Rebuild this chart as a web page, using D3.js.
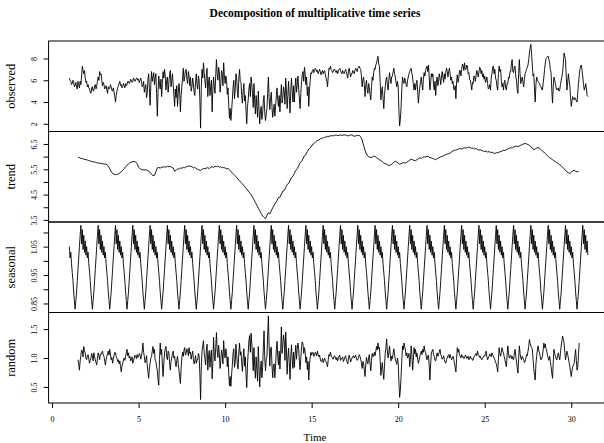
<!DOCTYPE html>
<html>
<head>
<meta charset="utf-8">
<script src="https://cdn.jsdelivr.net/npm/d3@7"></script>
<style>
  body { margin: 0; background: #fff; }
  svg { display: block; }
  text { font-family: "Liberation Serif", "Times New Roman", serif; fill: #000; }
</style>
</head>
<body>
<svg id="decomp" width="604" height="443"></svg>
<script>
// series start at time 1; observed / seasonal / random have 24 values per unit, one row = one unit
var startTime = 1, frequency = 24;

var observed = [
  6.2,6.0,5.9,5.6,5.7,6.0,5.8,5.4,5.5,5.8,5.4,5.2,5.9,5.6,5.3,5.9,5.6,6.4,7.3,6.9,6.6,6.9,6.2,5.8,
  5.9,5.4,5.6,5.3,5.2,4.9,4.8,5.3,5.4,5.0,5.1,5.5,5.6,5.2,5.5,5.9,6.3,6.0,6.8,6.5,6.6,6.0,5.5,5.8,
  5.6,5.2,5.3,5.5,5.1,4.8,5.4,5.2,5.3,5.6,5.4,5.1,5.0,5.3,4.9,4.5,4.0,4.6,5.0,5.3,5.5,5.7,5.9,5.5,
  5.6,5.3,5.4,5.7,5.5,5.3,5.7,5.5,5.6,5.9,5.9,5.7,5.8,6.1,6.0,5.8,5.9,6.2,6.1,5.9,6.0,6.2,6.2,6.0,
  6.1,5.8,6.0,6.2,5.9,5.4,5.5,5.9,4.9,5.3,5.6,4.4,4.8,6.1,6.6,5.2,3.7,5.6,6.8,5.9,6.3,6.7,5.6,6.2,
  6.6,4.8,2.7,4.9,6.4,5.6,5.2,6.1,4.5,5.7,6.8,6.2,7.0,6.4,5.1,6.0,6.3,4.9,5.8,6.5,6.9,5.4,6.0,6.6,
  5.6,4.6,3.6,5.2,4.4,5.5,3.6,4.8,5.7,4.9,3.1,4.6,5.4,6.2,7.1,5.9,6.3,6.9,7.0,6.1,5.7,6.8,6.4,5.5,
  6.3,5.0,5.4,6.2,5.7,4.9,4.6,5.8,6.6,5.6,5.2,6.4,6.0,4.2,1.6,5.4,7.0,6.2,7.6,6.7,6.0,5.3,6.6,7.1,
  4.5,5.8,6.3,4.6,5.4,6.0,3.1,5.1,6.3,5.4,4.8,6.5,7.9,6.6,6.0,7.2,6.8,4.9,5.7,6.9,6.6,5.5,7.6,6.4,
  5.7,6.4,6.0,4.7,5.3,3.8,2.5,3.4,2.3,3.2,4.2,5.3,6.0,4.3,5.1,6.6,6.2,5.0,4.4,6.1,7.0,5.9,5.8,4.6,
  3.9,5.0,5.7,4.1,4.6,3.2,2.0,3.6,4.2,5.2,5.7,4.5,6.3,5.6,4.8,3.5,5.7,4.0,2.9,4.6,3.6,2.6,5.0,3.4,
  2.0,3.1,3.6,2.4,2.9,4.1,4.6,3.0,2.3,2.9,3.4,4.8,6.3,4.4,3.3,4.3,4.9,3.5,2.6,3.3,3.8,2.7,3.6,4.6,
  5.3,4.2,3.6,4.6,3.1,4.4,5.6,3.9,4.3,5.4,5.0,3.8,6.2,5.1,3.4,4.6,5.9,4.5,3.0,4.9,6.2,5.0,4.0,5.5,
  4.0,5.3,6.2,4.9,5.6,6.4,5.2,4.3,3.4,4.8,5.9,6.5,6.8,5.9,7.2,6.6,5.6,6.3,4.6,5.4,3.6,5.1,6.0,6.7,
  6.6,6.9,7.0,6.7,6.8,7.1,7.0,6.8,6.9,6.6,6.8,7.0,6.8,6.5,6.7,6.9,6.6,6.8,6.9,6.5,6.2,5.9,5.4,6.3,
  7.1,7.0,7.3,7.0,6.9,6.7,6.8,7.0,7.0,6.8,6.7,6.9,6.6,6.8,7.0,7.1,6.9,6.7,6.6,6.9,6.7,6.6,6.8,7.0,
  6.8,6.5,6.2,6.8,7.1,6.7,6.3,6.6,6.6,6.9,6.8,6.6,6.9,7.1,7.0,6.8,7.1,7.2,7.3,7.1,7.0,6.4,5.4,6.0,
  6.3,5.6,4.5,5.5,6.0,5.2,4.8,5.7,5.3,4.7,4.2,5.4,6.3,6.0,6.7,7.1,7.0,7.4,7.6,7.9,8.2,7.5,7.3,5.8,
  4.2,5.0,5.4,4.3,3.4,4.6,5.4,6.0,6.3,5.6,5.1,6.0,6.7,6.1,5.7,6.3,6.4,6.8,7.1,6.6,6.3,5.8,5.4,5.9,
  5.4,3.2,1.8,2.4,3.5,5.2,6.3,5.9,5.7,6.2,6.0,5.6,5.4,6.0,6.3,6.6,6.8,7.0,7.1,6.6,6.3,5.6,5.1,5.7,
  5.1,5.7,6.0,5.0,3.9,4.7,5.4,5.9,6.3,5.6,5.1,6.1,6.7,6.4,6.9,7.1,7.3,6.8,7.4,6.3,5.1,5.8,6.6,6.3,
  6.6,5.6,5.1,5.9,4.6,5.8,6.3,5.5,5.9,6.6,6.2,5.6,6.3,6.8,6.3,5.8,6.6,6.1,6.7,7.1,6.8,6.3,6.8,7.1,
  6.6,6.0,6.3,5.7,5.9,5.2,5.1,5.5,4.3,5.9,6.5,5.8,6.2,6.9,6.9,6.4,7.0,7.5,7.4,6.9,7.6,7.0,7.0,7.4,
  7.3,6.6,6.7,6.1,6.0,5.6,5.1,5.8,5.7,6.4,6.3,5.9,6.4,6.9,6.7,6.3,6.8,7.2,7.1,6.6,6.9,6.3,6.6,6.1,
  6.4,5.8,6.0,6.3,5.7,5.2,5.3,5.6,5.1,6.2,6.6,7.2,7.3,6.6,7.0,6.2,6.0,5.4,5.1,6.6,7.3,6.8,7.0,6.0,
  5.4,5.7,5.1,5.8,6.0,5.3,5.1,5.7,5.7,6.3,6.2,6.8,6.8,7.5,7.9,6.8,6.7,7.2,7.3,6.4,6.0,5.2,4.8,6.6,
  7.9,6.6,5.7,6.0,6.3,5.8,5.4,6.1,6.6,6.8,7.0,7.2,7.4,7.9,8.5,9.0,9.3,8.4,7.3,6.4,6.6,5.2,4.0,5.6,
  6.3,6.0,5.9,5.8,5.7,5.5,5.4,5.2,5.1,5.7,6.3,7.0,7.6,8.0,8.1,8.2,8.2,7.9,7.6,7.0,6.7,5.1,3.9,5.4,
  6.3,6.0,5.7,5.3,5.1,5.2,5.3,5.0,5.1,5.6,6.0,6.3,6.7,7.6,8.5,8.2,7.9,6.4,5.1,5.8,6.6,6.0,5.5,4.4,
  3.6,4.1,4.5,4.3,4.2,4.4,4.3,4.1,4.0,4.8,5.7,6.4,7.0,7.3,7.4,6.9,6.3,5.6,5.1,5.3,5.7,5.2,4.6,4.5
];

// trend (moving average) read at 12 points per unit, missing for the first and last half unit
var trendStart = 1.5, trendFrequency = 12;

var trend = [
                                  5.98,5.96,5.93,5.92,5.90,5.88,
  5.88,5.85,5.83,5.82,5.80,5.79,5.78,5.76,5.75,5.73,5.74,5.72,
  5.71,5.70,5.69,5.62,5.52,5.41,5.33,5.30,5.29,5.30,5.32,5.36,
  5.40,5.46,5.52,5.60,5.66,5.71,5.76,5.78,5.80,5.81,5.79,5.72,
  5.58,5.52,5.49,5.48,5.47,5.48,5.46,5.43,5.38,5.30,5.25,5.26,
  5.40,5.56,5.57,5.55,5.58,5.59,5.60,5.58,5.62,5.60,5.61,5.58,
  5.55,5.42,5.46,5.52,5.50,5.55,5.54,5.57,5.56,5.60,5.61,5.63,
  5.62,5.60,5.55,5.58,5.52,5.50,5.47,5.45,5.50,5.53,5.52,5.55,
  5.56,5.53,5.58,5.60,5.57,5.62,5.60,5.63,5.58,5.60,5.56,5.57,
  5.55,5.52,5.53,5.48,5.42,5.35,5.30,5.24,5.18,5.10,5.05,4.98,
  4.92,4.86,4.78,4.72,4.64,4.57,4.50,4.40,4.30,4.18,4.08,3.96,
  3.86,3.76,3.66,3.60,3.55,3.68,3.78,3.74,3.86,3.98,4.08,4.18,
  4.26,4.38,4.40,4.52,4.64,4.66,4.78,4.90,4.94,5.06,5.18,5.22,
  5.34,5.46,5.52,5.64,5.76,5.80,5.92,6.04,6.08,6.20,6.30,6.34,
  6.42,6.50,6.54,6.60,6.64,6.66,6.70,6.72,6.74,6.76,6.78,6.80,
  6.80,6.82,6.83,6.82,6.84,6.85,6.83,6.84,6.86,6.84,6.85,6.86,
  6.84,6.82,6.83,6.86,6.85,6.82,6.80,6.84,6.83,6.84,6.78,6.66,
  6.45,6.25,6.10,6.02,5.98,5.96,5.98,6.02,6.00,5.96,5.92,5.88,
  5.84,5.80,5.75,5.72,5.70,5.66,5.65,5.68,5.72,5.78,5.82,5.78,
  5.74,5.70,5.72,5.75,5.76,5.74,5.78,5.82,5.86,5.90,5.88,5.85,
  5.84,5.88,5.92,5.95,5.93,5.97,6.00,5.98,6.02,6.00,5.96,5.95,
  5.93,5.90,5.88,5.92,5.95,5.98,6.00,6.02,6.05,6.08,6.10,6.12,
  6.14,6.18,6.22,6.25,6.26,6.28,6.30,6.32,6.30,6.33,6.35,6.34,
  6.36,6.38,6.35,6.33,6.34,6.30,6.32,6.28,6.26,6.27,6.24,6.22,
  6.20,6.22,6.18,6.20,6.16,6.18,6.14,6.12,6.16,6.15,6.18,6.20,
  6.22,6.25,6.24,6.28,6.30,6.33,6.35,6.34,6.38,6.40,6.42,6.40,
  6.42,6.45,6.48,6.50,6.52,6.50,6.48,6.44,6.40,6.32,6.28,6.30,
  6.34,6.36,6.33,6.28,6.22,6.18,6.12,6.06,6.00,5.96,5.92,5.88,
  5.84,5.80,5.76,5.72,5.68,5.64,5.58,5.52,5.46,5.40,5.36,5.34,
  5.38,5.44,5.46,5.42,5.40,5.41
];

// one seasonal figure (24 values), the seasonal component repeats it every unit
var seasonalFigure = [
  1.05,1.01,1.03,0.99,0.96,0.93,0.89,0.86,0.83,0.86,0.89,0.93,
  0.97,1.01,1.05,1.09,1.125,1.06,1.11,1.04,1.09,1.03,1.07,1.02
];

// random is missing for the first and last half unit
var randomOffset = 12;

var random = [
                                                            0.97,0.90,0.79,0.95,1.05,1.14,1.12,1.02,1.20,1.13,1.09,0.99,
  0.97,1.04,1.06,0.98,0.91,0.96,1.00,1.08,1.03,0.95,1.09,1.02,0.97,0.92,0.88,1.00,1.09,1.04,0.97,1.07,1.06,1.10,1.12,1.05,
  1.03,0.95,0.88,0.97,1.03,1.08,1.12,1.05,1.15,1.06,0.97,1.01,0.91,0.98,1.05,1.10,1.09,1.02,1.00,0.94,0.97,0.90,0.95,0.85,
  0.76,0.86,0.91,0.97,1.00,0.96,1.03,1.09,1.15,1.04,1.09,1.00,1.03,0.95,0.97,1.02,0.91,0.96,1.00,1.05,1.03,0.99,1.06,1.01,
  1.03,1.08,1.06,0.98,1.03,1.12,1.26,1.10,1.03,0.92,0.95,1.04,0.88,0.76,0.65,0.83,0.91,1.00,1.03,1.12,1.20,1.08,1.15,0.96,
  0.95,0.84,0.79,0.62,0.53,0.98,1.26,1.06,1.15,0.88,0.68,0.92,1.09,1.16,1.20,1.02,0.97,1.12,1.09,0.92,0.79,0.94,1.00,1.08,
  1.12,1.00,1.03,0.92,0.85,0.96,1.03,0.90,0.79,0.68,0.56,0.82,1.00,1.10,1.03,1.14,1.18,1.05,1.09,1.16,1.13,1.04,1.18,1.08,
  1.10,0.98,1.06,1.12,0.98,0.90,0.95,1.04,0.91,0.97,0.97,1.08,1.03,0.72,0.28,0.86,1.13,1.22,1.30,1.08,0.99,0.88,1.13,1.24,
  0.79,1.02,1.13,0.84,1.03,1.14,0.64,0.92,1.36,1.05,0.95,1.18,1.44,1.12,1.01,1.22,1.08,0.82,0.96,1.14,1.08,0.90,1.30,1.08,
  1.00,1.16,1.08,0.85,1.02,0.74,0.52,0.68,0.51,0.72,0.87,1.08,1.16,0.84,0.92,1.24,1.06,0.88,0.81,1.10,1.26,1.05,1.11,0.92,
  0.77,1.00,1.16,0.86,1.02,0.72,0.49,0.88,1.09,1.30,1.39,1.10,1.43,1.26,1.03,0.78,1.18,0.86,0.65,1.02,0.80,0.60,1.20,0.86,
  0.50,0.80,0.95,0.66,0.84,1.18,1.47,1.00,0.78,0.98,1.03,1.40,1.73,1.22,0.86,1.16,1.19,0.88,0.66,0.86,0.90,0.66,0.88,1.14,
  1.29,1.02,0.88,1.12,0.81,1.10,1.54,1.08,1.22,1.40,1.29,0.96,1.45,1.16,0.72,1.00,1.17,0.92,0.63,1.00,1.23,0.98,0.82,1.10,
  0.84,1.06,1.22,0.98,1.15,1.26,1.16,0.94,0.80,1.00,1.20,1.28,1.24,1.08,1.18,1.10,0.92,1.02,0.80,0.94,0.62,0.88,1.02,1.10,
  1.05,1.09,1.10,1.03,1.04,1.10,1.08,1.04,1.12,1.06,1.02,1.05,0.98,0.94,0.95,0.99,0.92,0.96,1.00,0.95,0.94,0.90,0.85,0.97,
  1.06,1.03,1.10,1.05,1.02,0.99,0.98,1.03,1.04,1.00,0.97,1.01,0.95,0.99,1.03,1.05,0.96,0.99,0.99,1.02,0.94,0.97,1.01,1.04,
  0.98,0.94,0.90,0.99,1.05,1.00,0.93,0.97,1.00,1.03,1.04,1.00,1.02,1.05,0.99,0.96,0.97,1.01,1.06,1.03,0.98,0.92,0.82,0.94,
  0.91,0.80,0.68,0.88,1.01,0.94,0.90,1.00,1.06,0.90,0.78,0.96,1.08,1.02,1.05,1.10,1.04,1.12,1.20,1.14,1.26,1.16,1.18,0.96,
  0.70,0.84,0.92,0.76,0.63,0.86,1.08,1.18,1.33,1.12,1.00,1.10,1.21,1.06,0.95,1.03,0.99,1.08,1.16,1.05,0.98,0.94,0.89,1.00,
  0.92,0.58,0.32,0.44,0.68,0.96,1.21,1.14,1.26,1.20,1.15,1.04,1.09,1.00,1.03,1.08,0.85,0.98,1.21,1.06,0.79,0.96,1.18,1.07,
  1.15,1.02,1.09,0.98,0.91,0.96,1.03,1.08,1.12,1.06,1.15,1.10,1.21,1.12,1.10,1.02,0.97,1.04,1.05,0.88,0.62,0.90,1.09,1.12,
  1.15,1.06,1.03,0.96,0.95,1.02,1.09,1.03,1.06,1.10,1.15,1.06,1.03,0.98,1.00,1.04,0.97,0.93,0.91,0.97,1.00,1.04,1.06,1.00,
  1.06,1.01,0.97,1.00,1.03,0.98,0.92,0.84,0.76,0.98,1.18,1.10,1.15,1.06,1.03,1.00,1.06,1.02,1.03,0.99,1.00,1.05,1.04,0.99,
  1.00,1.03,0.97,1.00,1.03,0.99,1.00,0.96,0.97,1.02,1.03,1.06,1.08,1.04,1.12,1.06,1.05,1.01,1.03,0.98,0.97,1.00,1.02,1.04,
  1.03,1.08,1.12,1.02,0.97,1.00,1.03,1.07,1.06,1.02,1.09,1.05,1.04,1.00,0.97,0.93,0.90,0.84,0.76,0.98,1.18,1.08,1.03,1.10,
  1.18,1.12,1.09,1.02,0.97,0.90,0.85,1.04,1.21,1.08,1.00,1.03,1.05,0.99,1.03,0.98,0.97,1.06,1.15,1.04,0.95,0.84,0.74,0.98,
  1.21,1.08,1.00,0.97,1.03,1.00,0.97,0.92,0.94,1.00,1.06,1.04,1.12,1.20,1.32,1.25,1.21,1.18,1.15,0.98,0.82,0.70,0.62,0.90,
  1.03,1.14,1.21,1.12,1.09,1.02,0.97,1.00,1.03,1.14,1.26,1.18,1.24,1.16,1.12,1.05,1.00,0.96,1.03,0.94,0.85,0.74,0.65,0.92,
  1.15,1.08,1.03,0.99,0.97,1.04,1.09,1.02,0.97,1.08,1.21,1.30,1.38,1.32,1.26,1.10,0.97,1.05,1.12,1.06,1.00,0.92,0.85,0.76,
  0.68,0.78,0.85,0.88,0.91,1.03,1.15,0.96,0.79,0.84,1.05,1.26
];

// axis ticks (R only labels the ones that fit)
var timeTicks = [0, 5, 10, 15, 20, 25, 30];
var observedTicks = [2, 4, 6, 8];
var observedLabels = ["2", "4", "6", "8"];
var trendTicks = [3.5, 4, 4.5, 5, 5.5, 6, 6.5];
var trendLabels = ["3.5", "", "4.5", "", "5.5", "", "6.5"];
var seasonalTicks = [0.85, 0.90, 0.95, 1.00, 1.05, 1.10];
var seasonalLabels = ["0.85", "", "0.95", "", "1.05", ""];
var randomTicks = [0.5, 1.0, 1.5];
var randomLabels = ["0.5", "1.0", "1.5"];

function padded(ext) {
  var r = ext[1] - ext[0];
  return [ext[0] - 0.04 * r, ext[1] + 0.04 * r];
}

function decompositionPlot() {
  var svg = d3.select("#decomp"),
      top = 41, panelH = 90.5,
      left = 48.6, right = 608.6;

  var n = observed.length;
  var seasonal = observed.map(function(d, i) { return seasonalFigure[i % frequency]; });

  var x = d3.scaleLinear()
      .domain(padded([startTime, startTime + (n - 1) / frequency]))
      .range([left, right]);

  var panels = [
    {name: "observed", values: observed, t0: startTime, f: frequency, ticks: observedTicks, labels: observedLabels},
    {name: "trend", values: trend, t0: trendStart, f: trendFrequency, ticks: trendTicks, labels: trendLabels},
    {name: "seasonal", values: seasonal, t0: startTime, f: frequency, ticks: seasonalTicks, labels: seasonalLabels},
    {name: "random", values: random, t0: startTime + randomOffset / frequency, f: frequency, ticks: randomTicks, labels: randomLabels}
  ];

  panels.forEach(function(p, k) {
    var y0 = top + k * panelH, y1 = y0 + panelH;
    var y = d3.scaleLinear().domain(padded(d3.extent(p.values))).range([y1, y0]);

    var line = d3.line()
        .x(function(d, i) { return x(p.t0 + i / p.f); })
        .y(function(d) { return y(d); });

    svg.append("path")
        .datum(p.values)
        .attr("fill", "none")
        .attr("stroke", "#000")
        .attr("stroke-width", 0.9)
        .attr("stroke-linejoin", "round")
        .attr("d", line);

    svg.append("rect")
        .attr("x", left)
        .attr("y", y0)
        .attr("width", right - left)
        .attr("height", panelH)
        .attr("fill", "none")
        .attr("stroke", "#000")
        .attr("stroke-width", 1);

    var ax = svg.append("g")
        .attr("transform", "translate(" + left + ",0)")
        .call(d3.axisLeft(y).tickValues(p.ticks).tickSize(5)
              .tickFormat(function(d, i) { return p.labels[i]; }));
    ax.select(".domain").remove();
    ax.selectAll("line").attr("stroke", "#000");
    ax.selectAll("text")
        .attr("font-size", 8)
        .attr("x", 0)
        .attr("y", -11.3)
        .attr("dy", 0)
        .attr("text-anchor", "middle")
        .attr("transform", "rotate(-90)");

    svg.append("text")
        .attr("transform", "translate(15.3," + (y0 + panelH / 2) + ") rotate(-90)")
        .attr("text-anchor", "middle")
        .attr("font-size", 12.5)
        .text(p.name);
  });

  var bottom = top + 4 * panelH;
  var xa = svg.append("g")
      .attr("transform", "translate(0," + bottom + ")")
      .call(d3.axisBottom(x).tickValues(timeTicks).tickSize(5));
  xa.select(".domain").remove();
  xa.selectAll("line").attr("stroke", "#000");
  xa.selectAll("text")
      .attr("font-size", 8)
      .attr("y", 13.3)
      .attr("fill", "#000");

  svg.append("text")
      .attr("x", 315)
      .attr("y", 441)
      .attr("text-anchor", "middle")
      .attr("font-size", 11)
      .text("Time");

  svg.append("text")
      .attr("x", 315)
      .attr("y", 17)
      .attr("text-anchor", "middle")
      .attr("font-size", 11.5)
      .attr("font-weight", "bold")
      .text("Decomposition of multiplicative time series");
}

decompositionPlot();
</script>
</body>
</html>
